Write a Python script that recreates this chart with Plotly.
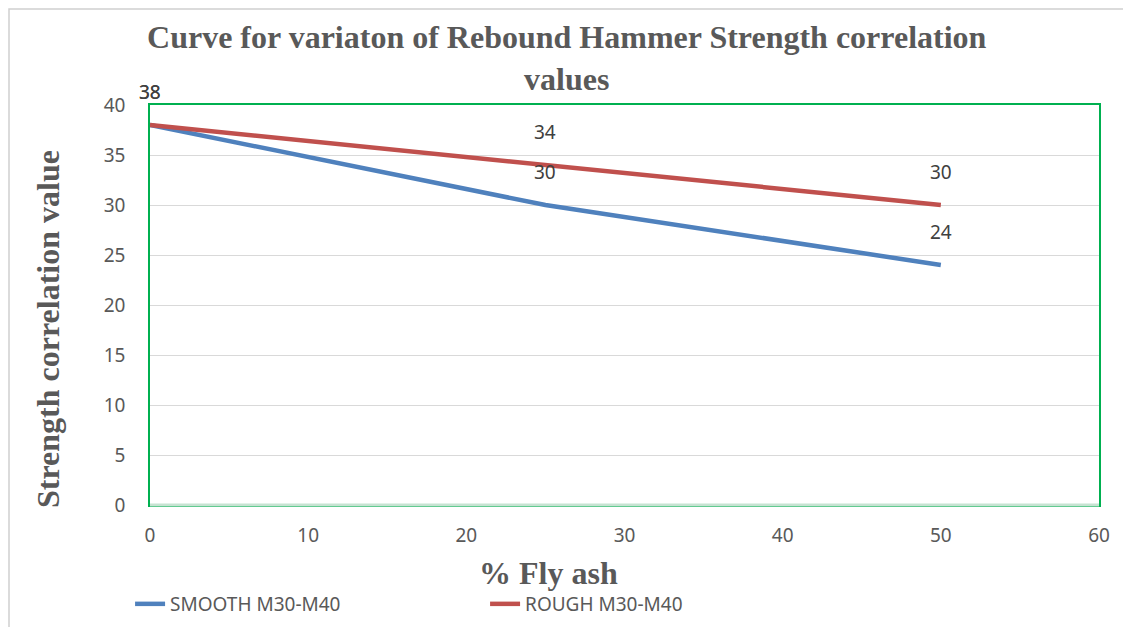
import plotly.graph_objects as go

fly_ash = [0, 25, 50]
smooth = [38, 30, 24]
rough = [38, 34, 30]

x_ticks = [0, 10, 20, 30, 40, 50, 60]
y_ticks = [0, 5, 10, 15, 20, 25, 30, 35, 40]

fig = go.Figure()
fig.add_trace(go.Scatter(x=fly_ash, y=smooth, mode="lines", name="SMOOTH M30-M40",
                         line=dict(color="#4F81BD", width=4.5)))
fig.add_trace(go.Scatter(x=fly_ash, y=rough, mode="lines", name="ROUGH M30-M40",
                         line=dict(color="#C0504D", width=4.5)))

# data labels above each point
for series in (smooth, rough):
    for xv, yv in zip(fly_ash, series):
        fig.add_annotation(x=xv, y=yv, text=str(yv), showarrow=False, yshift=33,
                           font=dict(family="Noto Sans", size=19, color="#404040"))

# axis titles (placed as in the original, slightly off-centre)
fig.add_annotation(text="<b>Strength correlation value</b>", textangle=-90,
                   xref="paper", yref="paper", x=(48 - 150) / 949, y=(505 - 329) / 400,
                   xanchor="center", yanchor="middle", showarrow=False,
                   font=dict(family="Liberation Serif", size=32, color="#595959"))
fig.add_annotation(text="<b>% Fly ash</b>",
                   xref="paper", yref="paper", x=(548 - 150) / 949, y=(505 - 573) / 400,
                   xanchor="center", yanchor="middle", showarrow=False,
                   font=dict(family="Liberation Serif", size=32, color="#595959"))

# outer chart frame
fig.add_shape(type="rect", xref="paper", yref="paper",
              x0=(1 - 142) / 949, x1=1.05, y0=-0.40, y1=(97 - 1) / 400 + 1,
              line=dict(color="#d0d0d0", width=1.5), layer="below")
# pale bottom axis line
fig.add_shape(type="line", xref="paper", yref="paper", x0=0, x1=1, y0=0, y1=0,
              line=dict(color="#c6e3d2", width=3), layer="above")

fig.update_layout(
    width=1131, height=627,
    margin=dict(l=142, r=40, t=97, b=130, autoexpand=False),
    paper_bgcolor="white", plot_bgcolor="white",
    title=dict(text="<b>Curve for variaton of Rebound Hammer Strength correlation<br>values</b>",
               x=0.494, xanchor="center", y=0.936, yanchor="middle",
               font=dict(family="Liberation Serif", size=32, color="#595959")),
    xaxis=dict(range=[0, 60], tickvals=x_ticks, showgrid=False, zeroline=False,
               showline=True, linecolor="#00B050", linewidth=1.5, mirror=True,
               automargin=False, ticklabelstandoff=12,
               tickfont=dict(family="Noto Sans", size=19, color="#595959")),
    yaxis=dict(range=[0, 40], tickvals=y_ticks, showgrid=True, gridcolor="#d9d9d9",
               zeroline=False, showline=True, linecolor="#00B050", linewidth=1.5, mirror=True,
               automargin=False, ticklabelstandoff=19,
               tickfont=dict(family="Noto Sans", size=19, color="#595959")),
    legend=dict(orientation="h", x=-0.021, xanchor="left", y=-0.2475, yanchor="middle",
                entrywidth=310, entrywidthmode="pixels",
                font=dict(family="Noto Sans", size=19, color="#595959")),
)

fig.write_html("out.html")
